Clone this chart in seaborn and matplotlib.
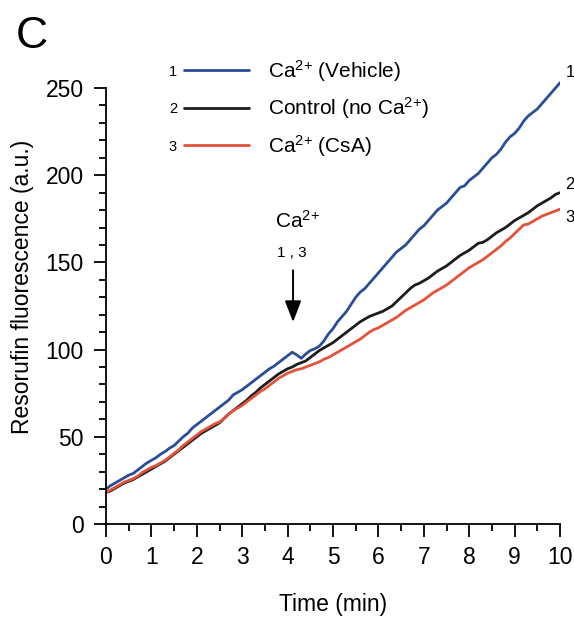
import numpy as np
import pandas as pd
import matplotlib
matplotlib.use("Agg")
import matplotlib.pyplot as plt
from matplotlib.ticker import FixedLocator
import seaborn as sns

# ---------------- data ----------------
time_min = np.round(np.linspace(0, 10, 101), 1)

vehicle = [20, 22, 23.5, 25, 26.5, 28, 29, 31, 33, 35,
           36.5, 38, 40, 41.5, 43.5, 45, 47.5, 50, 52, 55,
           57, 59, 61, 63, 65, 67, 69, 71, 74, 75.5,
           77, 79, 81, 83, 85, 87, 89, 90.5, 92.5, 94.5,
           96.5, 98.5, 97, 95, 97.5, 99.5, 100.5, 102, 105, 109,
           112, 116, 119, 122, 126, 130, 133, 135, 138, 141,
           144, 147, 150, 153, 156, 158, 160, 163, 166, 169,
           171, 174, 177, 180, 182, 184, 187, 190, 193, 194,
           197, 199, 201, 204, 207, 210, 212, 215, 219, 222,
           224, 227, 231, 234, 236, 238, 241, 244, 247, 250,
           253]

control = [18, 19, 20.5, 22, 23.5, 24.5, 25.5, 27, 28.5, 30,
           31.5, 33, 34.5, 36, 38, 40, 42, 44, 46, 48,
           50, 52, 53.5, 55, 56.5, 58, 60.5, 63, 65, 67,
           69, 71, 73.5, 75.5, 78, 80, 82, 84, 86, 87.5,
           89, 90, 91.5, 92.5, 93.5, 95.5, 97.5, 99.5, 101, 102.5,
           104, 106, 108, 110, 112, 114, 116, 117.5, 119, 120,
           121, 122, 123.5, 125, 127.5, 130, 132.5, 135, 137, 138,
           139.5, 141, 143, 145, 146.5, 148, 150, 152, 154, 155.5,
           157, 159, 161, 161.5, 163, 165, 167, 168.5, 170, 172,
           174, 175.5, 177, 178.5, 180.5, 182.5, 184, 185.5, 187, 189,
           190]

csa = [18, 19.5, 21, 22.5, 24, 25, 26, 27.5, 29.5, 31,
       32.5, 33.5, 35, 36.5, 38.5, 40.5, 42.5, 45, 47, 49,
       51, 53, 54.5, 56, 57.5, 58.5, 60.5, 63, 65, 66.5,
       68, 70, 72, 74, 76, 77.5, 79.5, 81.5, 83.5, 85,
       86.5, 87.5, 88.5, 89, 90, 91, 92, 93, 94.5, 95.5,
       97, 98.5, 100, 101.5, 103, 104.5, 106, 108, 110, 111.5,
       112.5, 114, 115.5, 117, 118.5, 120.5, 122.5, 124, 125.5, 127,
       128.5, 130.5, 132.5, 134, 135.5, 137, 139, 141, 143, 145,
       147, 148.5, 150, 151.5, 153.5, 155.5, 157.5, 159.5, 162, 164,
       166.5, 169, 171.5, 172, 173.5, 175, 176.5, 177.5, 178.5, 179.5,
       180.5]

labels = ["Ca$^{\\mathregular{2{+}}}$ (Vehicle)",
          "Control (no Ca$^{\\mathregular{2{+}}}$)",
          "Ca$^{\\mathregular{2{+}}}$ (CsA)"]
trace_ids = ["1", "2", "3"]
colors = ["#2a4d98", "#1c1c1c", "#e4523a"]

x_ticks = list(range(0, 11))
x_minor = [0.5 + i for i in range(10)]
y_ticks = [0, 50, 100, 150, 200, 250]
y_minor = [v for v in range(10, 250, 10) if v % 50 != 0]

# ---------------- figure ----------------
sns.set_style("ticks")
plt.rcParams["font.family"] = ["Liberation Sans", "DejaVu Sans"]
plt.rcParams["mathtext.fontset"] = "custom"
plt.rcParams["mathtext.rm"] = "Liberation Sans"
plt.rcParams["mathtext.it"] = "Liberation Sans:italic"
plt.rcParams["mathtext.bf"] = "Liberation Sans:bold"
for k in ("text.color", "axes.labelcolor", "xtick.color", "ytick.color",
          "axes.edgecolor"):
    plt.rcParams[k] = "black"

df = pd.concat([
    pd.DataFrame({"Time": time_min, "Fluor": vals, "Condition": lab})
    for vals, lab in zip([vehicle, control, csa], labels)
], ignore_index=True)

fig = plt.figure(figsize=(5.74, 6.23), dpi=100)
H = 623.0
W = 574.0
ax = fig.add_axes([106 / W, 99 / H, 454 / W, (524 - 70.6) / H])

sns.lineplot(data=df, x="Time", y="Fluor", hue="Condition",
             palette=dict(zip(labels, colors)), hue_order=labels,
             estimator=None, lw=2.0, ax=ax)

ax.set_xlim(0, 10)
ax.set_ylim(0, 260)
ax.spines["top"].set_visible(False)
ax.spines["right"].set_visible(False)
ax.spines["left"].set_bounds(0, 250)
ax.spines["bottom"].set_bounds(0, 10)
for s in ("left", "bottom"):
    ax.spines[s].set_linewidth(1.3)

ax.set_xticks(x_ticks)
ax.set_yticks(y_ticks)
ax.xaxis.set_minor_locator(FixedLocator(x_minor))
ax.yaxis.set_minor_locator(FixedLocator(y_minor))
ax.tick_params(which="major", direction="out", length=9, width=1.3,
               labelsize=16.5, pad=7, color="black", labelcolor="black")
ax.tick_params(which="minor", direction="out", length=5, width=1.3,
               color="black")

ax.set_xlabel("Time (min)", fontsize=16.5)
ax.set_ylabel("Resorufin fluorescence (a.u.)", fontsize=16.5)
ax.xaxis.set_label_coords(0.5, -0.152)
ax.yaxis.set_label_coords((34 - 106) / 454, 0.522)

# legend
handles, labs = ax.get_legend_handles_labels()
if ax.get_legend() is not None:
    ax.get_legend().remove()
leg = ax.legend(handles, labs, loc="upper left",
                bbox_to_anchor=(184 / W, 1 - 58 / H),
                bbox_transform=fig.transFigure,
                frameon=False, fontsize=15, handlelength=3.1,
                handletextpad=0.95, labelspacing=0.55,
                borderpad=0, borderaxespad=0)
for ln in leg.get_lines():
    ln.set_linewidth(2.0)
for tid, yy in zip(trace_ids, [71.7, 109, 147.3]):
    fig.text(173 / W, 1 - yy / H, tid, fontsize=10.5,
             ha="center", va="center")

# end-of-trace numbers
for tid, yv in zip(trace_ids, [259, 194.4, 175.5]):
    ax.text(10.12, yv, tid, fontsize=12, ha="left", va="center",
            clip_on=False)

# Ca2+ addition arrow
ax.annotate("", xy=(4.12, 115.8), xytext=(4.12, 145.5),
            arrowprops=dict(arrowstyle="-|>,head_length=0.65,head_width=0.25",
                            color="black", lw=1.4, mutation_scale=20,
                            shrinkA=0, shrinkB=0))
ax.text(3.733, 169.7, "Ca$^{\\mathregular{2{+}}}$", fontsize=15,
        ha="left", va="baseline")
ax.text(4.088, 153.0, "1 , 3", fontsize=11, ha="center", va="baseline")

# panel letter
fig.text(16 / W, 1 - 48 / H, "C", fontsize=32, ha="left", va="baseline")

fig.savefig("out.png", dpi=100)
